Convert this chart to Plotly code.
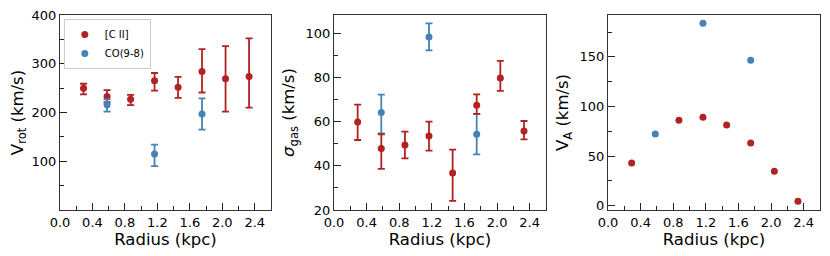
import plotly.graph_objects as go
from plotly.subplots import make_subplots

# ---- data ----
radius = [0.29, 0.58, 0.87, 1.165, 1.455, 1.75, 2.04, 2.33]
radius_co = [0.58, 1.165, 1.75]

vrot_cii = [250, 233, 227, 265, 252, 284, 269, 274]
vrot_cii_up = [9, 13, 9, 16, 21, 46, 67, 78]
vrot_cii_dn = [13, 12, 12, 20, 22, 43, 67, 64]

vrot_co = [216, 115, 197]
vrot_co_up = [11, 19, 32]
vrot_co_dn = [14, 25, 32]

sig_cii = [59.8, 47.9, 49.4, 53.5, 36.8, 67.4, 79.8, 55.8]
sig_cii_up = [7.9, 6.4, 6.1, 6.5, 10.5, 5.0, 7.7, 4.5]
sig_cii_dn = [8.1, 9.3, 6.0, 6.6, 12.7, 3.9, 5.9, 3.8]

sig_co = [64.1, 98.3, 54.3]
sig_co_up = [8.1, 6.2, 9.2]
sig_co_dn = [9.4, 6.0, 9.1]

va_radius_cii = [0.29, 0.87, 1.165, 1.455, 1.75, 2.04, 2.33]
va_cii = [43.0, 86.1, 89.1, 81.4, 63.2, 34.6, 4.4]
va_co = [72.3, 184.0, 146.6]

x_ticks = [0.0, 0.4, 0.8, 1.2, 1.6, 2.0, 2.4]
x_tick_text = ["0.0", "0.4", "0.8", "1.2", "1.6", "2.0", "2.4"]
x_minor = [0.2, 0.6, 1.0, 1.4, 1.8, 2.2, 2.6]
y1_ticks = [100, 200, 300, 400]
y1_minor = [50, 150, 250, 350]
y2_ticks = [20, 40, 60, 80, 100]
y2_minor = [30, 50, 70, 90]
y3_ticks = [0, 50, 100, 150]
y3_minor = [25, 75, 125, 175]

RED = "#B22222"
BLUE = "#4682B4"
FONT = "DejaVu Sans"

fig = make_subplots(rows=1, cols=3)

def err(up, dn, color):
    return dict(type="data", symmetric=False, array=up, arrayminus=dn,
                color=color, thickness=1.8, width=3.5)

mk_r = dict(color=RED, size=7)
mk_b = dict(color=BLUE, size=7)

fig.add_trace(go.Scatter(x=radius, y=vrot_cii, mode="markers", marker=mk_r,
                         error_y=err(vrot_cii_up, vrot_cii_dn, RED), name="[C II]",
                         showlegend=True), row=1, col=1)
fig.add_trace(go.Scatter(x=radius_co, y=vrot_co, mode="markers", marker=mk_b,
                         error_y=err(vrot_co_up, vrot_co_dn, BLUE), name="CO(9-8)",
                         showlegend=True), row=1, col=1)

fig.add_trace(go.Scatter(x=radius_co, y=sig_co, mode="markers", marker=mk_b,
                         error_y=err(sig_co_up, sig_co_dn, BLUE), showlegend=False), row=1, col=2)
fig.add_trace(go.Scatter(x=radius, y=sig_cii, mode="markers", marker=mk_r,
                         error_y=err(sig_cii_up, sig_cii_dn, RED), showlegend=False), row=1, col=2)

fig.add_trace(go.Scatter(x=va_radius_cii, y=va_cii, mode="markers", marker=mk_r,
                         showlegend=False), row=1, col=3)
fig.add_trace(go.Scatter(x=radius_co, y=va_co, mode="markers", marker=mk_b,
                         showlegend=False), row=1, col=3)

W = 760.0
doms = [[0, 211 / W], [274 / W, 486 / W], [548 / W, 1.0]]

axis_common = dict(showline=True, mirror=True, linecolor="#333", linewidth=1,
                   showgrid=False, zeroline=False, ticks="inside", ticklen=7,
                   tickwidth=1.2, tickcolor="#222", ticklabeloverflow="allow",
                   automargin=False,
                   tickfont=dict(family=FONT, size=13, color="black"))

for i, name in enumerate(["xaxis", "xaxis2", "xaxis3"]):
    fig.layout[name].update(
        domain=doms[i], range=[0, 2.6], tickvals=x_ticks, ticktext=x_tick_text,
        minor=dict(tickvals=x_minor, ticks="inside", ticklen=4, tickcolor="#222"),
        title=dict(text="Radius (kpc)", font=dict(family=FONT, size=16.5, color="black"),
                   standoff=4),
        **axis_common)

ytitle_font = dict(family=FONT, size=16.5, color="black")
fig.layout.yaxis.update(range=[0, 400], tickvals=y1_ticks,
                        minor=dict(tickvals=y1_minor, ticks="inside", ticklen=4, tickcolor="#222"),
                        title=dict(text="V<sub>rot</sub> (km/s)", font=ytitle_font, standoff=6),
                        **axis_common)
fig.layout.yaxis2.update(range=[20, 108.3], tickvals=y2_ticks,
                         minor=dict(tickvals=y2_minor, ticks="inside", ticklen=4, tickcolor="#222"),
                         title=dict(text="<i>σ</i><sub>gas</sub> (km/s)", font=ytitle_font, standoff=6),
                         **axis_common)
fig.layout.yaxis3.update(range=[-4.4, 192.3], tickvals=y3_ticks,
                         minor=dict(tickvals=y3_minor, ticks="inside", ticklen=4, tickcolor="#222"),
                         title=dict(text="V<sub>A</sub> (km/s)", font=ytitle_font, standoff=6),
                         **axis_common)

# page body has an 8px default margin, so the figure is offset by 8px
fig.update_layout(
    width=822, height=248,
    margin=dict(l=52, r=10, t=7, b=46, autoexpand=False),
    paper_bgcolor="white", plot_bgcolor="white",
    font=dict(family=FONT, color="black"),
    legend=dict(x=0.005, y=0.98, xanchor="left", yanchor="top",
                bgcolor="white", bordercolor="#cccccc", borderwidth=1,
                font=dict(family=FONT, size=10), tracegroupgap=0,
                itemwidth=30),
)

fig.write_html("out.html")
